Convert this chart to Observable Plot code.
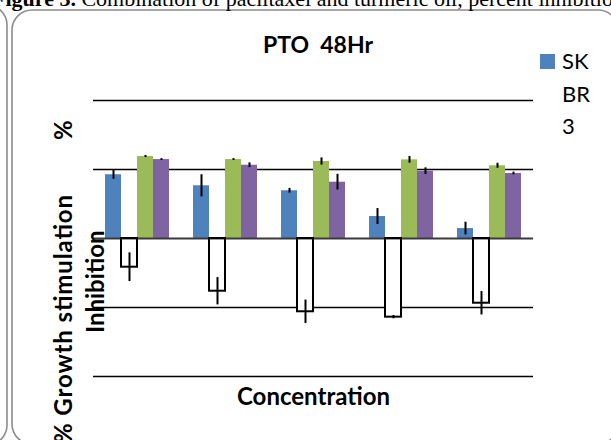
<!DOCTYPE html>
<html>
<head>
<meta charset="utf-8">
<script src="https://cdn.jsdelivr.net/npm/d3@7"></script>
<script src="https://cdn.jsdelivr.net/npm/@observablehq/plot@0.6"></script>
<style>
  html, body { margin: 0; padding: 0; background: #fff; }
  #wrap { position: relative; width: 611px; height: 440px; overflow: hidden; background: #fff; }
  #wrap > svg { position: absolute; left: 0; top: 0; }
  #overlay { pointer-events: none; }
</style>
</head>
<body>
<div id="wrap"></div>
<script>
// ---- data ----
const groups = ["C1", "C2", "C3", "C4", "C5"];
const series = ["SK BR 3", "Series 2", "Series 3", "Series 4"];
const seriesColors = ["#4F81BD", "#FFFFFF", "#9BBB59", "#8064A2"];
const skbr3 = [46.2, 38.2, 34.6, 15.9, 7.2];
const skbr3Err = [3.3, 8.0, 1.7, 5.8, 4.6];
const series2 = [-20.8, -38.2, -53.1, -57.0, -46.9];
const series2Err = [10.4, 9.9, 8.5, 1.2, 8.5];
const series3 = [59.4, 57.2, 55.8, 57.0, 52.7];
const series3Err = [0.8, 0.7, 2.6, 2.4, 1.8];
const series4 = [57.2, 53.1, 40.8, 48.8, 47.1];
const series4Err = [0.7, 1.7, 5.7, 2.4, 1.0];
const gridValues = [100, 50, -50, -100];
const zeroValue = [0];

const captionBold = "Figure 3.";
const captionText = " Combination of paclitaxel and turmeric oil, percent inhibition";
const titleText = "PTO  48Hr";
const xTitle = "Concentration";
const yTitleLine1 = "% Growth stimulation";
const yTitlePct = "%";
const yTitleLine2 = "Inhibition";
const legendLines = ["SK", "BR", "3"];

// ---- table built from the arrays ----
const valueArrays = [skbr3, series2, series3, series4];
const errArrays = [skbr3Err, series2Err, series3Err, series4Err];
const rows = [];
groups.forEach((g, gi) => {
  series.forEach((s, si) => {
    rows.push({group: g, series: s, value: valueArrays[si][gi], err: errArrays[si][gi]});
  });
});

const W = 611, H = 440;

const chart = Plot.plot({
  width: W,
  height: H,
  marginLeft: 93,
  marginRight: 78,
  marginTop: 100,
  marginBottom: 64,
  style: {background: "transparent"},
  facet: {data: rows, x: "group"},
  fx: {domain: groups, padding: 0, axis: null, label: null},
  x: {domain: series, paddingInner: 0, paddingOuter: 0.75, axis: null, label: null},
  y: {domain: [-100, 100], axis: null, label: null},
  color: {domain: series, range: seriesColors},
  marks: [
    Plot.ruleY(gridValues, {stroke: "#000", strokeWidth: 1.6}),
    Plot.barY(rows, {x: "series", y: "value", fill: "series", inset: 0}),
    Plot.ruleY(zeroValue, {stroke: "#3a3a3a", strokeWidth: 2}),
    Plot.barY(rows, {
      filter: d => d.series === series[1],
      x: "series", y: "value", fill: "none", stroke: "#000", strokeWidth: 2, inset: 0
    }),
    Plot.ruleX(rows, {
      x: "series", y1: d => d.value - d.err, y2: d => d.value + d.err,
      stroke: "#000", strokeWidth: 2
    })
  ]
});
document.getElementById("wrap").appendChild(chart);

// ---- decorations: frame, caption, title, legend, axis titles ----
const ov = d3.select("#wrap").append("svg")
  .attr("id", "overlay")
  .attr("width", W).attr("height", H);

// neighbouring frame (left, mostly off-screen) and the chart frame
ov.append("rect").attr("x", -400).attr("y", 5).attr("width", 407).attr("height", 440)
  .attr("rx", 20).attr("fill", "none").attr("stroke", "#8c8c8c").attr("stroke-width", 1.6);
ov.append("rect").attr("x", 12).attr("y", 10).attr("width", 606).attr("height", 434)
  .attr("rx", 20).attr("fill", "none").attr("stroke", "#8c8c8c").attr("stroke-width", 1.6);

// caption (cut off at the top, as in the reference)
const cap = ov.append("text").attr("x", -8).attr("y", 6)
  .attr("font-family", "'Liberation Serif', 'DejaVu Serif', serif")
  .attr("font-size", 22).attr("fill", "#000").style("white-space", "pre");
cap.append("tspan").attr("font-weight", "bold").text(captionBold);
cap.append("tspan").text(captionText);

// chart title
ov.append("text").attr("x", 318).attr("y", 53).attr("text-anchor", "middle")
  .attr("font-family", "Lato, 'Open Sans', sans-serif").attr("font-weight", "bold")
  .attr("font-size", 23).style("white-space", "pre").text(titleText);

// legend
ov.append("rect").attr("x", 540).attr("y", 54).attr("width", 15).attr("height", 15)
  .attr("fill", seriesColors[0]);
legendLines.forEach((t, i) => {
  ov.append("text").attr("x", 562).attr("y", 69 + i * 32.5)
    .attr("font-family", "Lato, 'Open Sans', sans-serif")
    .attr("font-size", 22).text(t);
});

// x axis title
ov.append("text").attr("x", 313.5).attr("y", 405).attr("text-anchor", "middle")
  .attr("font-family", "Lato, 'Open Sans', sans-serif").attr("font-weight", "bold")
  .attr("font-size", 24).text(xTitle);

// y axis title (two lines, rotated)
const yFont = (sel) => sel.attr("font-family", "Lato, 'Open Sans', sans-serif")
  .attr("font-weight", "bold").attr("font-size", 24);
yFont(ov.append("text").attr("transform", "translate(72,195) rotate(-90)")
  .attr("text-anchor", "end").attr("textLength", 248).attr("lengthAdjust", "spacing")
  .text(yTitleLine1));
yFont(ov.append("text").attr("transform", "translate(72,140) rotate(-90)")
  .attr("text-anchor", "start").text(yTitlePct));
yFont(ov.append("text").attr("transform", "translate(104,333) rotate(-90)")
  .attr("text-anchor", "start").text(yTitleLine2));
</script>
</body>
</html>
